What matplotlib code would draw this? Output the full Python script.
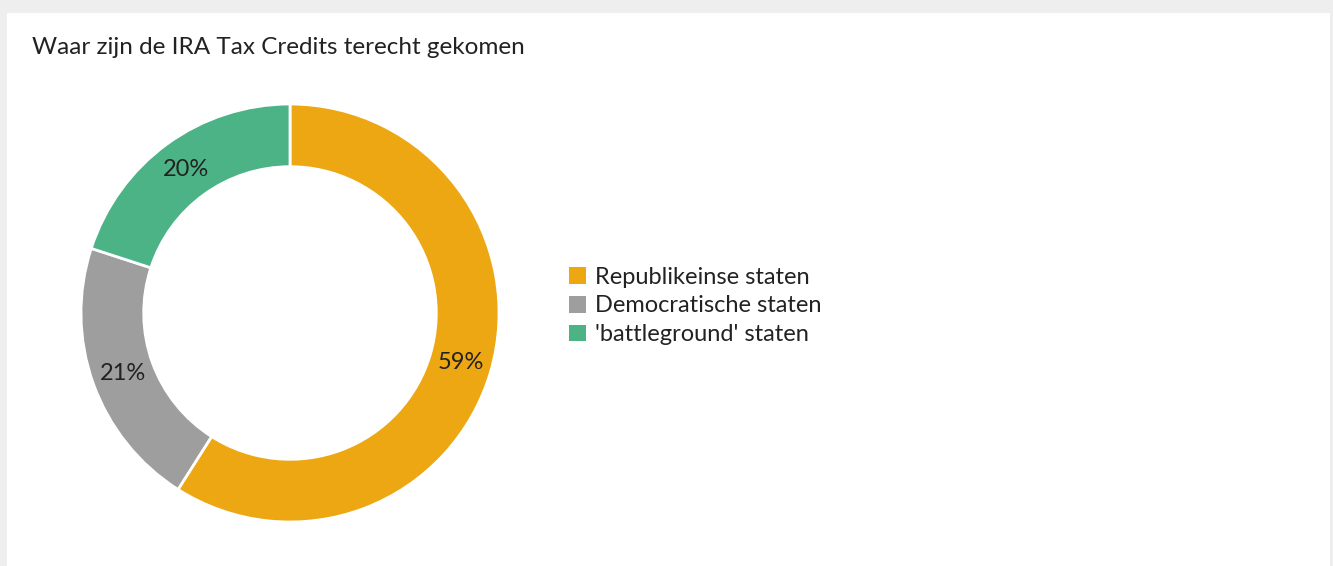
import matplotlib.pyplot as plt
from matplotlib.patches import Rectangle

# Data
categories = ["Republikeinse staten", "Democratische staten", "'battleground' staten"]
shares = [59, 21, 20]
colors = ['#EDA712', '#9E9E9E', '#4CB386']

plt.rcParams['font.family'] = ['Lato', 'DejaVu Sans']

W, H = 1333, 566
fig = plt.figure(figsize=(W / 100, H / 100), dpi=100, facecolor='#eeeeee')

# white card behind everything
fig.patches.append(Rectangle((7 / W, 0), (1330 - 7) / W, (H - 13) / H,
                             transform=fig.transFigure, facecolor='white',
                             edgecolor='none', zorder=-10))

fig.text(32 / W, 1 - 48 / H, 'Waar zijn de IRA Tax Credits terecht gekomen',
         fontsize=17.5, color='#222222', va='center', ha='left')

# donut axes: centre (290, 313), outer radius 209 px
cx, cy, r = 290, 313, 209
ax = fig.add_axes([(cx - r) / W, (H - cy - r) / H, 2 * r / W, 2 * r / H])
ax.set_zorder(5)
wedges, texts, autotexts = ax.pie(
    shares, colors=colors, startangle=90, counterclock=False, radius=1,
    wedgeprops=dict(width=0.3, edgecolor='white', linewidth=2),
    autopct=lambda p: f'{p:.0f}%', pctdistance=0.85,
    textprops=dict(fontsize=17, color='#222222'))
ax.set_xlim(-1, 1)
ax.set_ylim(-1, 1)
ax.set_aspect('equal')
ax.axis('off')

leg = fig.legend(wedges, categories, loc='center left',
                 bbox_to_anchor=(569 / W, 1 - 306 / H), frameon=False,
                 fontsize=17, handlelength=0.7, handleheight=0.7,
                 handletextpad=0.4, labelspacing=0.32, borderaxespad=0,
                 borderpad=0)
for t in leg.get_texts():
    t.set_color('#222222')
for h in leg.legend_handles:
    h.set_edgecolor('none')

fig.savefig('out.png', dpi=100, facecolor=fig.get_facecolor())
